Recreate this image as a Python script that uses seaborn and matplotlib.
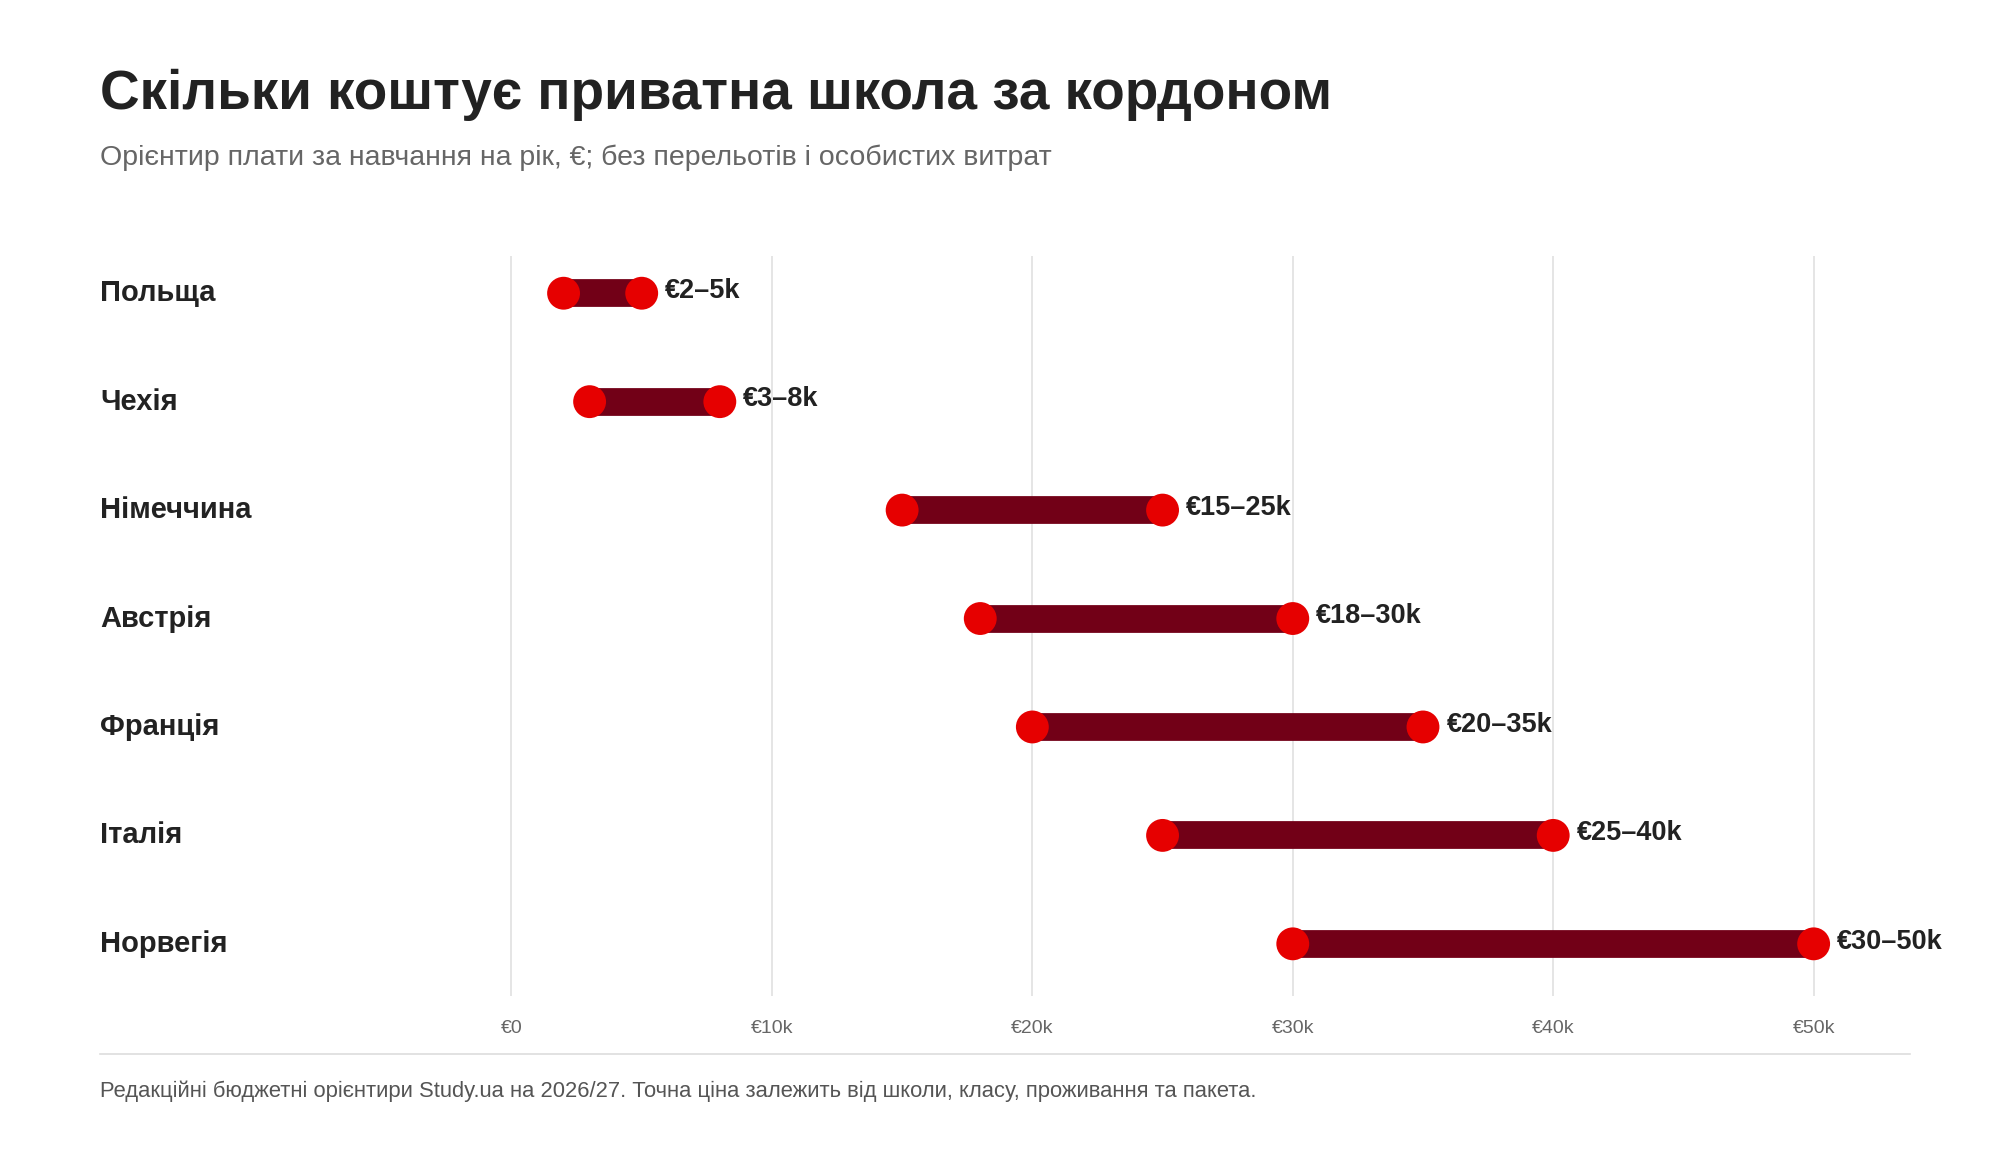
import matplotlib
matplotlib.use("Agg")
import matplotlib.pyplot as plt
import seaborn as sns
import pandas as pd

countries = ["Польща", "Чехія", "Німеччина", "Австрія", "Франція", "Італія", "Норвегія"]
low_k = [2, 3, 15, 18, 20, 25, 30]
high_k = [5, 8, 25, 30, 35, 40, 50]
labels = ["€2–5k", "€3–8k", "€15–25k", "€18–30k", "€20–35k", "€25–40k", "€30–50k"]
ticks = [0, 10, 20, 30, 40, 50]
tick_labels = ["€0", "€10k", "€20k", "€30k", "€40k", "€50k"]

sns.set_theme(style="white")
plt.rcParams["font.family"] = ["Liberation Sans", "DejaVu Sans"]

df = pd.DataFrame({"country": countries, "low": low_k, "high": high_k, "row": range(len(countries))})
pts = pd.concat([df[["row", "low"]].rename(columns={"low": "v"}),
                 df[["row", "high"]].rename(columns={"high": "v"})])

fig = plt.figure(figsize=(20, 11.6), dpi=100)
ax = fig.add_axes([0.05, 0.091, 0.905, 0.688])
ax.set_xlim(-15.8, 53.7)
ax.set_ylim(7.02, -0.34)

for t, tl in zip(ticks, tick_labels):
    ax.vlines(t, -0.34, 6.48, color="#e0e0e0", lw=1.2, zorder=0)
    ax.text(t, 6.78, tl, ha="center", va="center", fontsize=14, color="#666666")

ax.hlines(df["row"], df["low"], df["high"], color="#720017", lw=20, zorder=2)
sns.scatterplot(data=pts, x="v", y="row", color="#e60000", s=560, edgecolor="none",
                zorder=3, ax=ax, legend=False)

for i, r in df.iterrows():
    ax.text(r["high"] + 0.9, r["row"] - 0.02, labels[i], ha="left", va="center",
            fontsize=19.5, fontweight="bold", color="#222222")
    ax.text(-15.8, r["row"], r["country"], ha="left", va="center",
            fontsize=21, fontweight="bold", color="#222222")

ax.set_xticks([])
ax.set_yticks([])
ax.set_xlabel("")
ax.set_ylabel("")
for s in ["top", "left", "right"]:
    ax.spines[s].set_visible(False)
ax.spines["bottom"].set_color("#dddddd")
ax.spines["bottom"].set_linewidth(1.2)

fig.text(0.05, 0.918, "Скільки коштує приватна школа за кордоном", fontsize=39.5,
         fontweight="bold", color="#222222", va="center")
fig.text(0.05, 0.864, "Орієнтир плати за навчання на рік, €; без перельотів і особистих витрат",
         fontsize=20.5, color="#666666", va="center")
fig.text(0.05, 0.059, "Редакційні бюджетні орієнтири Study.ua на 2026/27. Точна ціна залежить від школи, класу, проживання та пакета.",
         fontsize=15.8, color="#555555", va="center")

fig.savefig("out.png", dpi=100, facecolor="white")
